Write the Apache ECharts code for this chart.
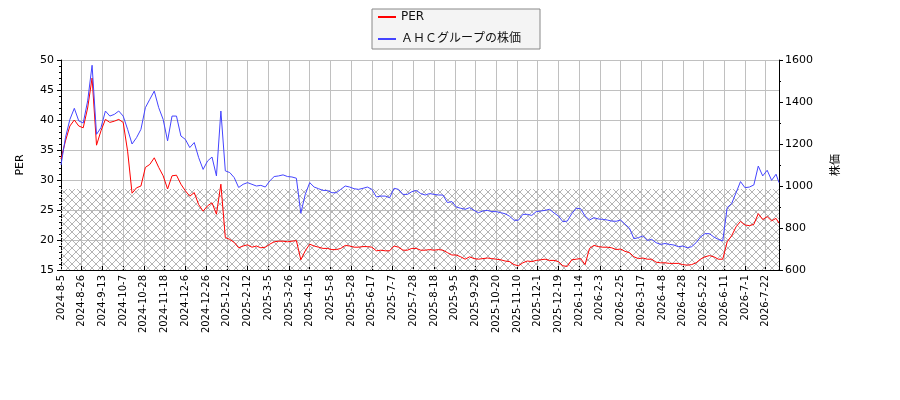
<!DOCTYPE html>
<html>

<head>
    <meta charset="utf-8">
    <title>PER と株価</title>
    <script src="https://cdn.jsdelivr.net/npm/echarts@6.0.0/dist/echarts.min.js"></script>
    <style>
        body { margin: 0; background: #fff; }
    </style>
</head>

<body>
    <div id="chart1" style="width:900px;height:400px;"></div>
</body>
<script type="text/javascript">
// 目盛りラベル (14 営業日ごと)
var tickLabels = ['2024-8-5', '2024-8-26', '2024-9-13', '2024-10-7', '2024-10-28', '2024-11-18', '2024-12-6',
    '2024-12-26', '2025-1-22', '2025-2-12', '2025-3-5', '2025-3-26', '2025-4-15', '2025-5-8', '2025-5-28',
    '2025-6-17', '2025-7-7', '2025-7-28', '2025-8-18', '2025-9-5', '2025-9-29', '2025-10-20', '2025-11-10',
    '2025-12-1', '2025-12-19', '2026-1-14', '2026-2-3', '2026-2-25', '2026-3-17', '2026-4-8', '2026-4-28',
    '2026-5-22', '2026-6-11', '2026-7-1', '2026-7-22'];
var tickStep = 14;      // 営業日
var sampleStep = 3;     // 値は 3 営業日ごとに読み取り
var lastDay = 485;

// PER (左軸)
var per = [33.5, 36.5, 39.0, 40.0, 39.0, 38.7, 42.0, 47.0, 35.8, 38.2, 40.1, 39.6, 39.8, 40.1, 39.6, 34.8, 27.8, 28.7, 29.0, 32.1, 32.6, 33.7, 32.1, 30.7, 28.5, 30.7, 30.8, 29.3,
    28.2, 27.3, 27.9, 25.9, 24.8, 25.7, 26.2, 24.3, 29.3, 20.4, 20.1, 19.6, 18.7, 19.0, 19.2, 18.8, 19.0, 18.7, 18.8, 19.3, 19.7, 19.8, 19.8, 19.7, 19.8, 19.9, 16.7,
    18.2, 19.3, 19.0, 18.8, 18.6, 18.6, 18.4, 18.4, 18.6, 19.1, 19.0, 18.8, 18.8, 18.9, 18.9, 18.8, 18.2, 18.3, 18.2, 18.2, 19.0, 18.8, 18.3, 18.3, 18.6, 18.6, 18.3,
    18.3, 18.4, 18.3, 18.4, 18.3, 17.9, 17.5, 17.5, 17.2, 16.8, 17.2, 16.9, 16.8, 16.9, 17.0, 16.9, 16.8, 16.7, 16.5, 16.4, 15.9, 15.7, 16.2, 16.5, 16.4, 16.6, 16.7,
    16.8, 16.6, 16.6, 16.4, 15.7, 15.6, 16.7, 16.8, 16.9, 15.9, 18.6, 19.1, 18.9, 18.8, 18.8, 18.7, 18.4, 18.5, 18.1, 17.9, 17.2, 16.9, 17.0, 16.8, 16.8, 16.3, 16.2,
    16.2, 16.1, 16.1, 16.1, 15.9, 15.8, 15.9, 16.2, 16.8, 17.2, 17.4, 17.2, 16.8, 16.8, 19.7, 20.7, 22.2, 23.1, 22.5, 22.4, 22.6, 24.4, 23.4, 23.9, 23.2, 23.6, 22.8];

// 株価 (右軸)
var price = [1100, 1230, 1317, 1370, 1310, 1300, 1405, 1575, 1246, 1278, 1357, 1333, 1341, 1357, 1333, 1270, 1200, 1230, 1270, 1373, 1413, 1452, 1373, 1317, 1215, 1333, 1333, 1238,
    1222, 1183, 1207, 1135, 1079, 1119, 1138, 1048, 1357, 1072, 1064, 1040, 993, 1008, 1016, 1008, 1000, 1003, 995, 1024, 1045, 1048, 1053, 1045, 1043, 1037, 870,
    960, 1016, 995, 987, 979, 979, 968, 968, 984, 1000, 995, 987, 984, 989, 995, 984, 948, 952, 952, 944, 989, 984, 960, 960, 973, 979, 964,
    957, 964, 960, 957, 957, 921, 926, 900, 894, 889, 897, 884, 873, 881, 884, 878, 878, 873, 868, 856, 837, 837, 865, 865, 860, 878, 881,
    884, 889, 872, 857, 830, 833, 868, 894, 892, 857, 838, 849, 843, 841, 838, 833, 832, 838, 818, 799, 749, 754, 762, 741, 746, 730, 722,
    726, 722, 719, 711, 714, 706, 711, 730, 757, 773, 773, 757, 746, 738, 897, 916, 968, 1021, 992, 995, 1005, 1095, 1048, 1075, 1027, 1056, 1016];

// PER の網掛け範囲
var bandRange = [15, 28.5];

function toPoints(arr) {
    return arr.map(function (v, i) {
        return [Math.min(i * sampleStep, lastDay), v];
    });
}

// 網掛けのパターン (1px の斜線)
var hatch = document.createElement('canvas');
hatch.width = 8;
hatch.height = 8;
var hctx = hatch.getContext('2d');
hctx.fillStyle = '#b4b4b4';
for (var i = 0; i < 8; i++) {
    hctx.fillRect(i, i, 1, 1);
    hctx.fillRect(7 - i, i, 1, 1);
}

var font = "'DejaVu Sans', 'Noto Sans CJK JP', sans-serif";
var myChart1 = echarts.init(document.getElementById('chart1'));

myChart1.setOption({
    animation: false,
    textStyle: { fontFamily: font },
    grid: { left: 61, right: 121, top: 60, bottom: 130 },
    legend: {
        data: ['PER', 'ＡＨＣグループの株価'],
        orient: 'vertical',
        left: 372,
        top: 9,
        padding: [2, 19, 4, 6],
        icon: 'rect',
        itemWidth: 18,
        itemHeight: 2,
        itemGap: 10,
        backgroundColor: '#f4f4f4',
        borderColor: '#888',
        borderWidth: 1,
        borderRadius: 0,
        textStyle: { fontSize: 12, color: '#111', fontFamily: font }
    },
    xAxis: {
        type: 'value',
        min: 0,
        max: lastDay,
        interval: tickStep,
        axisLine: { onZero: false, lineStyle: { color: '#000' } },
        axisTick: { inside: true, length: 4, lineStyle: { color: '#000' } },
        axisLabel: {
            rotate: 90,
            margin: 5,
            fontSize: 10,
            color: '#000',
            formatter: function (v) {
                return v % tickStep === 0 ? (tickLabels[v / tickStep] || '') : '';
            }
        },
        splitLine: { show: true, lineStyle: { color: '#c0c0c0', width: 1 } }
    },
    yAxis: [{
        type: 'value',
        name: 'PER',
        nameLocation: 'middle',
        nameGap: 35,
        nameTextStyle: { fontSize: 11, color: '#000' },
        min: 15,
        max: 50,
        interval: 5,
        axisLine: { show: true, lineStyle: { color: '#000' } },
        axisTick: { show: true, length: 4, lineStyle: { color: '#000' } },
        minorTick: { show: true, splitNumber: 5, length: 2, lineStyle: { color: '#000' } },
        axisLabel: { fontSize: 11, color: '#000', margin: 7 },
        splitLine: { show: true, lineStyle: { color: '#c0c0c0', width: 1 } }
    }, {
        type: 'value',
        name: '株価',
        nameLocation: 'middle',
        nameGap: 52,
        nameTextStyle: { fontSize: 11, color: '#000' },
        min: 600,
        max: 1600,
        interval: 200,
        axisLine: { show: true, lineStyle: { color: '#000' } },
        axisTick: { show: true, length: 4, lineStyle: { color: '#000' } },
        minorTick: { show: true, splitNumber: 2, length: 2, lineStyle: { color: '#000' } },
        axisLabel: {
            fontSize: 11, color: '#000', margin: 6,
            formatter: function (v) { return String(v); }
        },
        splitLine: { show: false }
    }],
    series: [{
        name: 'band',
        type: 'line',
        data: [],
        silent: true,
        z: 1,
        markArea: {
            silent: true,
            itemStyle: { color: { image: hatch, repetition: 'repeat' } },
            data: [[{ yAxis: bandRange[0] }, { yAxis: bandRange[1] }]]
        }
    }, {
        name: 'PER',
        type: 'line',
        yAxisIndex: 0,
        symbol: 'none',
        z: 3,
        color: '#ff0000',
        lineStyle: { color: '#ff0000', width: 1 },
        data: toPoints(per)
    }, {
        name: 'ＡＨＣグループの株価',
        type: 'line',
        yAxisIndex: 1,
        symbol: 'none',
        z: 3,
        color: '#4444ff',
        lineStyle: { color: '#4444ff', width: 1 },
        data: toPoints(price)
    }]
});
</script>

</html>
